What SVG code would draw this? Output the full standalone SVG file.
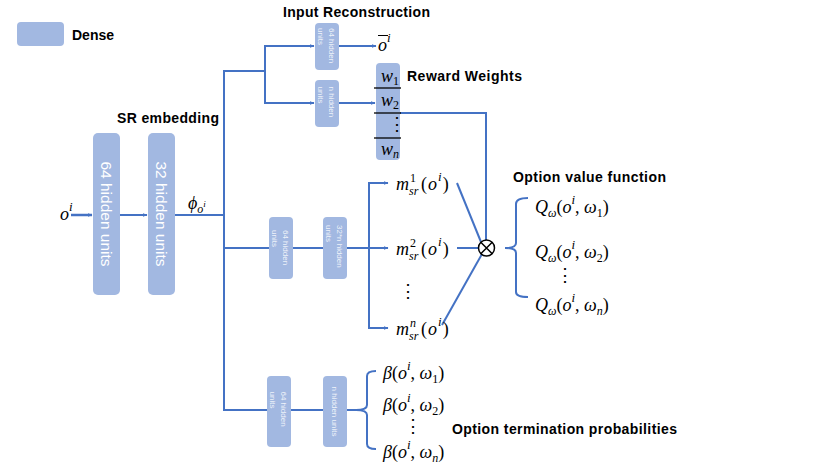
<svg xmlns="http://www.w3.org/2000/svg" width="830" height="467" viewBox="0 0 830 467">
<style>
.box{fill:#A2B8E1}
.ln{fill:none;stroke:#4472C4;stroke-width:2}
.lbl{font-family:"Liberation Sans",Arial,sans-serif;font-weight:bold;font-size:14px;fill:#000}
.big{font-family:"Liberation Sans",Arial,sans-serif;font-size:15.5px;fill:#fff}
.sm{font-family:"Liberation Sans",Arial,sans-serif;font-size:8px;fill:#fff;fill-opacity:0.85}
.m{font-family:"Liberation Serif","Times New Roman",serif;font-style:italic;font-size:18px;fill:#000}
.rm{font-style:normal}
</style>
<defs>
<marker id="ar" viewBox="0 0 10 10" refX="9" refY="5" markerWidth="5" markerHeight="5" orient="auto" markerUnits="userSpaceOnUse">
<path d="M0,1 L10,5 L0,9 z" fill="#4472C4"/>
</marker>
</defs>
<g id="legend">
<rect class="box" x="17" y="22" width="47" height="24" rx="4"/>
<text class="lbl" x="72" y="40" textLength="42" lengthAdjust="spacing">Dense</text>
</g>
<g id="connectors">
<line class="ln" x1="71" y1="215" x2="92" y2="215" marker-end="url(#ar)" style="stroke-width:2.5"/>
<line class="ln" x1="120" y1="215" x2="147" y2="215" marker-end="url(#ar)"/>
<line class="ln" x1="175" y1="215" x2="224" y2="215"/>
<line class="ln" x1="224" y1="70" x2="224" y2="411"/>
<polyline class="ln" points="223,71 265,71"/>
<line class="ln" x1="265" y1="45" x2="265" y2="104"/>
<line class="ln" x1="264" y1="46" x2="314" y2="46" marker-end="url(#ar)"/>
<line class="ln" x1="264" y1="103" x2="314" y2="103" marker-end="url(#ar)"/>
<line class="ln" x1="339" y1="46" x2="376" y2="46" marker-end="url(#ar)"/>
<line class="ln" x1="339" y1="103" x2="375" y2="103" marker-end="url(#ar)"/>
<polyline class="ln" points="400,113 486,113 486,240"/>
<line class="ln" x1="224" y1="248" x2="369" y2="248"/>
<line class="ln" x1="369" y1="182" x2="369" y2="329"/>
<line class="ln" x1="368" y1="183" x2="388" y2="183" marker-end="url(#ar)"/>
<line class="ln" x1="368" y1="248" x2="388" y2="248" marker-end="url(#ar)"/>
<line class="ln" x1="368" y1="328" x2="388" y2="328" marker-end="url(#ar)"/>
<line class="ln" x1="457" y1="183" x2="481" y2="242"/>
<line class="ln" x1="457" y1="248" x2="479" y2="248"/>
<line class="ln" x1="442" y1="325" x2="482" y2="254"/>
<path class="ln" d="M528,198 Q516,198 516,204 L516,243 Q516,248 505,248 Q516,248 516,253 L516,292 Q516,297 528,297"/>
<line class="ln" x1="224" y1="410" x2="323" y2="410"/>
<line class="ln" x1="347" y1="410" x2="356" y2="410"/>
<path class="ln" d="M376,371 Q367,371 367,376 L367,405 Q367,410 356,410 Q367,410 367,415 L367,444 Q367,449 376,449"/>
</g>
<g id="dense64">
<rect class="box" x="93" y="133" width="27" height="162" rx="5"/>
<text class="big" transform="translate(106.5,214) rotate(90)" text-anchor="middle" y="6">64 hidden units</text>
</g>
<g id="dense32">
<rect class="box" x="148" y="133" width="27" height="162" rx="5"/>
<text class="big" transform="translate(161.5,214) rotate(90)" text-anchor="middle" y="6">32 hidden units</text>
</g>
<g id="rec64">
<rect class="box" x="315" y="23" width="24" height="47" rx="4"/>
<text class="sm" transform="translate(327,46) rotate(90)"><tspan x="-18" y="-2">64 hidden</tspan><tspan x="-18" y="9">units</tspan></text>
</g>
<g id="recn">
<rect class="box" x="315" y="80" width="24" height="47" rx="4"/>
<text class="sm" transform="translate(327,103.5) rotate(90)"><tspan x="-17" y="-2">n hidden</tspan><tspan x="-17" y="9">units</tspan></text>
</g>
<g id="sr64">
<rect class="box" x="269" y="217" width="24" height="62" rx="4"/>
<text class="sm" transform="translate(281,248) rotate(90)"><tspan x="-18" y="-2">64 hidden</tspan><tspan x="-18" y="9">units</tspan></text>
</g>
<g id="sr32n">
<rect class="box" x="323" y="217" width="24" height="62" rx="4"/>
<text class="sm" transform="translate(335,248) rotate(90)"><tspan x="-23" y="-2">32*n hidden</tspan><tspan x="-23" y="9">units</tspan></text>
</g>
<g id="term64">
<rect class="box" x="267" y="376" width="24" height="71" rx="4"/>
<text class="sm" transform="translate(279,411.5) rotate(90)"><tspan x="-20" y="-2">64 hidden</tspan><tspan x="-20" y="9">units</tspan></text>
</g>
<g id="termn">
<rect class="box" x="323" y="376" width="24" height="71" rx="4"/>
<text class="sm" transform="translate(335,411.5) rotate(90)" text-anchor="middle" y="3">n hidden units</text>
</g>
<g id="reward">
<rect class="box" x="376" y="63" width="24" height="97" rx="4"/>
<g stroke="#000" stroke-width="1.3">
<line x1="374" y1="88" x2="401" y2="88"/>
<line x1="374" y1="113" x2="401" y2="113"/>
<line x1="374" y1="138" x2="401" y2="138"/>
</g>
<text class="m" x="381" y="82">w<tspan class="rm" font-size="12" dy="3">1</tspan></text>
<text class="m" x="381" y="106">w<tspan class="rm" font-size="12" dy="3">2</tspan></text>
<text class="m rm" x="388" y="130" font-size="13">⋮</text>
<text class="m" x="381" y="155">w<tspan font-size="12" dy="3">n</tspan></text>
<text class="lbl" x="407" y="81" textLength="115" lengthAdjust="spacing">Reward Weights</text>
</g>
<g id="otimes">
<circle cx="486.5" cy="248" r="8" fill="#fff" stroke="#000" stroke-width="1.5"/>
<path d="M480.8,242.3 L492.2,253.7 M492.2,242.3 L480.8,253.7" stroke="#000" stroke-width="1.5"/>
</g>
<g id="labels">
<text class="lbl" x="283" y="17" textLength="147" lengthAdjust="spacing">Input Reconstruction</text>
<text class="lbl" x="117" y="123" textLength="102" lengthAdjust="spacing">SR embedding</text>
<text class="lbl" x="513" y="182" textLength="153" lengthAdjust="spacing">Option value function</text>
<text class="lbl" x="452" y="434" textLength="225" lengthAdjust="spacing">Option termination probabilities</text>
<text class="m" x="60" y="220">o<tspan font-size="13" dy="-9">i</tspan></text>
<text class="m" x="188" y="209">ϕ<tspan font-size="12" dy="4">o</tspan><tspan font-size="9" dy="-6">i</tspan></text>
<text class="m" x="378" y="51">o<tspan font-size="13" dy="-9">i</tspan></text>
<line x1="378" y1="35.5" x2="388" y2="35.5" stroke="#000" stroke-width="1"/>
<text class="m" x="396" y="190" font-size="19">m<tspan font-size="12" x="410" y="182" class="rm">1</tspan><tspan font-size="12" x="409" y="195">sr</tspan><tspan class="rm" x="421" y="190">(</tspan><tspan dx="1">o</tspan><tspan font-size="13" dx="1" dy="-9">i</tspan><tspan class="rm" dx="1" dy="9">)</tspan></text>
<text class="m" x="396" y="255" font-size="19">m<tspan font-size="12" x="410" y="247" class="rm">2</tspan><tspan font-size="12" x="409" y="260">sr</tspan><tspan class="rm" x="421" y="255">(</tspan><tspan dx="1">o</tspan><tspan font-size="13" dx="1" dy="-9">i</tspan><tspan class="rm" dx="1" dy="9">)</tspan></text>
<text class="m rm" x="399" y="297" font-size="13">⋮</text>
<text class="m" x="396" y="335" font-size="19">m<tspan font-size="12" x="410" y="327">n</tspan><tspan font-size="12" x="409" y="340">sr</tspan><tspan class="rm" x="421" y="335">(</tspan><tspan dx="1">o</tspan><tspan font-size="13" dx="1" dy="-9">i</tspan><tspan class="rm" dx="1" dy="9">)</tspan></text>
<text class="m" x="535" y="213">Q<tspan font-size="12" dy="4">ω</tspan><tspan class="rm" dy="-4">(</tspan>o<tspan font-size="13" dy="-9">i</tspan><tspan class="rm" dy="9">, </tspan>ω<tspan class="rm" font-size="12" dy="4">1</tspan><tspan class="rm" dy="-4">)</tspan></text>
<text class="m" x="535" y="258">Q<tspan font-size="12" dy="4">ω</tspan><tspan class="rm" dy="-4">(</tspan>o<tspan font-size="13" dy="-9">i</tspan><tspan class="rm" dy="9">, </tspan>ω<tspan class="rm" font-size="12" dy="4">2</tspan><tspan class="rm" dy="-4">)</tspan></text>
<text class="m rm" x="556" y="281" font-size="13">⋮</text>
<text class="m" x="535" y="311">Q<tspan font-size="12" dy="4">ω</tspan><tspan class="rm" dy="-4">(</tspan>o<tspan font-size="13" dy="-9">i</tspan><tspan class="rm" dy="9">, </tspan>ω<tspan font-size="12" dy="4">n</tspan><tspan class="rm" dy="-4">)</tspan></text>
<text class="m" x="383" y="379">β<tspan class="rm">(</tspan>o<tspan font-size="13" dy="-9">i</tspan><tspan class="rm" dy="9">, </tspan>ω<tspan class="rm" font-size="12" dy="4">1</tspan><tspan class="rm" dy="-4">)</tspan></text>
<text class="m" x="383" y="411">β<tspan class="rm">(</tspan>o<tspan font-size="13" dy="-9">i</tspan><tspan class="rm" dy="9">, </tspan>ω<tspan class="rm" font-size="12" dy="4">2</tspan><tspan class="rm" dy="-4">)</tspan></text>
<text class="m rm" x="404" y="432" font-size="13">⋮</text>
<text class="m" x="383" y="458">β<tspan class="rm">(</tspan>o<tspan font-size="13" dy="-9">i</tspan><tspan class="rm" dy="9">, </tspan>ω<tspan font-size="12" dy="4">n</tspan><tspan class="rm" dy="-4">)</tspan></text>
</g>
</svg>
